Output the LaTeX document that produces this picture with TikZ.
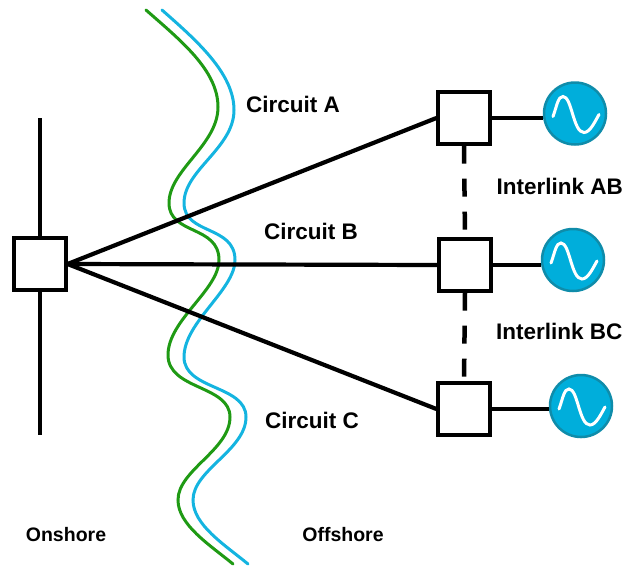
\documentclass[tikz,border=0pt]{standalone}
\usepackage{fontspec}
\setmainfont{Liberation Sans}
\definecolor{shoregreen}{HTML}{1F9A14}
\definecolor{shoreblue}{HTML}{14B4E0}
\definecolor{genfill}{HTML}{00AEDB}
\definecolor{genedge}{HTML}{0F8CAA}
\tikzset{
    busbox/.style={draw, line width=3.2pt, fill=white, minimum size=52pt, inner sep=0pt},
    genunit/.style={circle, draw=genedge, line width=2.5pt, fill=genfill, minimum size=62pt, inner sep=0pt},
    circuit/.style={line width=4.2pt},
    interlink/.style={line width=4.5pt, dash pattern=on 18pt off 15pt},
    shore/.style={line width=3pt, line cap=round},
    sineline/.style={white, line width=3pt, line cap=round},
    labeltext/.style={font=\bfseries\fontsize{22.5}{27}\selectfont, inner sep=0pt},
    shoretext/.style={font=\bfseries\fontsize{19.5}{24}\selectfont, inner sep=0pt}
}

\begin{document}
\begin{tikzpicture}[x=1pt, y=-1pt]
    \clip (0,0) rectangle (623,566);
    % coastline
    \draw[shore, shoregreen] (146,10) .. controls (180,40) and (218,70) .. (218,107)
        .. controls (218,145) and (169,170) .. (169,203)
        .. controls (169,235) and (219,225) .. (219,260)
        .. controls (219,290) and (168,320) .. (168,355)
        .. controls (168,390) and (230,385) .. (230,417)
        .. controls (230,450) and (178,470) .. (178,500)
        .. controls (178,525) and (210,545) .. (233,564);
    \draw[shore, shoreblue] (162,10) .. controls (196,40) and (234,73) .. (234,110)
        .. controls (234,148) and (184,170) .. (184,203)
        .. controls (184,235) and (235,225) .. (235,260)
        .. controls (235,290) and (184,322) .. (184,357)
        .. controls (184,390) and (246,385) .. (246,417)
        .. controls (246,450) and (193,470) .. (193,500)
        .. controls (193,525) and (225,545) .. (248,564);
    % onshore side
    \draw[circuit] (40,118) -- (40,435);
    \node[busbox] (boxS) at (40,264) {};
    % offshore side
    \node[busbox] (boxA) at (464,118) {};
    \node[busbox] (boxB) at (465,265) {};
    \node[busbox] (boxC) at (464,409) {};
    \node[genunit] (genA) at (575,113.5) {};
    \node[genunit] (genB) at (573,260) {};
    \node[genunit] (genC) at (581,406) {};
    \foreach \gen in {genA,genB,genC}
        \draw[sineline, shift={(\gen.center)}] (-22,3) .. controls (-18,-8) and (-17,-17) .. (-12,-17)
            .. controls (-3,-17) and (-2,19) .. (9,19)
            .. controls (15,19) and (20,8) .. (24,1);
    \draw[circuit] (boxS.east) -- (boxA.west);
    \draw[circuit] (boxS.east) -- (boxB.west);
    \draw[circuit] (boxS.east) -- (boxC.west);
    \draw[circuit] (boxA.east) -- (boxA.east -| genA.west);
    \draw[circuit] (boxB.east) -- (boxB.east -| genB.west);
    \draw[circuit] (boxC.east) -- (boxC.east -| genC.west);
    \draw[interlink] (boxA.south) -- (boxB.north);
    \draw[interlink] (boxB.south) -- (boxC.north);
    \node[labeltext] (labelA) at (293,104) {Circuit A};
    \node[labeltext] (labelB) at (311,231) {Circuit B};
    \node[labeltext] (labelC) at (312,420) {Circuit C};
    \node[labeltext, anchor=west] (labelAB) at (496.5,186) {Interlink AB};
    \node[labeltext, anchor=east] (labelBC) at (622.5,331) {Interlink BC};
    \node[shoretext] (onshore) at (66,535) {Onshore};
    \node[shoretext] (offshore) at (343,535) {Offshore};
\end{tikzpicture}
\end{document}
